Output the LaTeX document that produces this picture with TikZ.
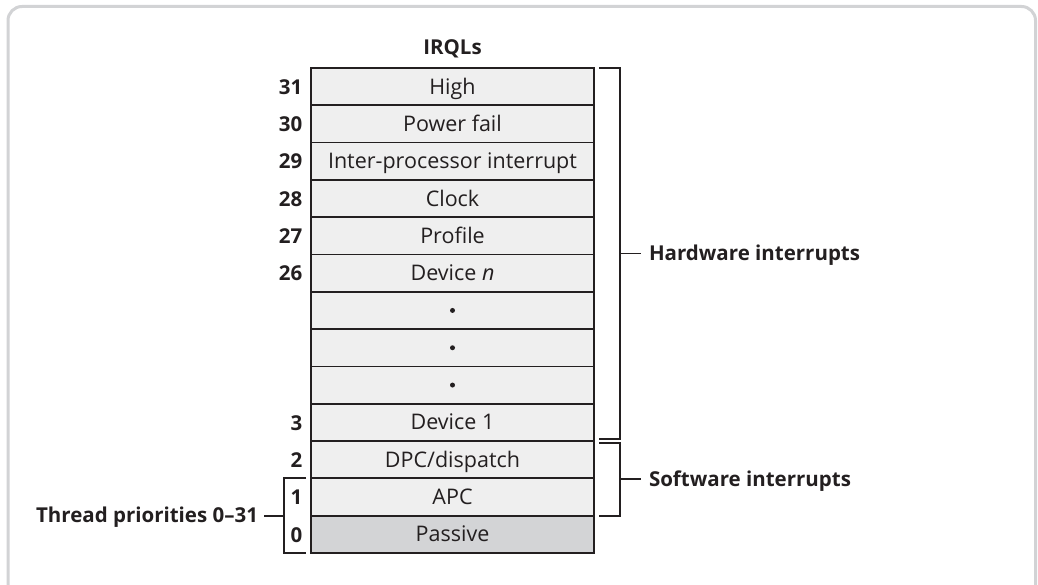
\documentclass[tikz,border=0pt]{standalone}
\usepackage{fontspec}
\setmainfont{Open Sans}
\usetikzlibrary{calc,positioning}
\definecolor{ink}{HTML}{231F20}
\definecolor{cellfill}{HTML}{EFEFEF}
\definecolor{passivefill}{HTML}{D3D4D6}
\definecolor{framegray}{HTML}{D2D3D5}
\begin{document}
\begin{tikzpicture}[x=1pt,y=-1pt,
  cell/.style={draw=ink,line width=1.8pt,fill=cellfill,minimum width=283pt,
    minimum height=37.3pt,inner sep=0pt,outer sep=0pt,text=ink,
    text height=15pt,text depth=0pt,font=\fontsize{21.5}{24}\selectfont},
  passive/.style={cell,fill=passivefill},
  level/.style={anchor=east,inner sep=0pt,text height=14.5pt,text depth=0pt,
    font=\bfseries\fontsize{20.5}{23}\selectfont,text=ink},
  tag/.style={inner sep=0pt,text height=14.5pt,text depth=0pt,
    font=\bfseries\fontsize{20.5}{23}\selectfont,text=ink},
  brace/.style={draw=ink,line width=1.8pt},
  dotmark/.style={circle,fill=ink,inner sep=0pt,minimum size=5pt}]
\useasboundingbox (0,0) rectangle (1038,585);
\clip (0,0) rectangle (1038,585);
% outer panel
\draw[framegray,line width=3pt,rounded corners=14pt] (8,6.5) rectangle (1035.5,620);

% IRQL table, top to bottom
\node[tag] (title) at (452.5,47) {IRQLs};
\node[cell] (r31) at (452.5,86.65) {High};
\node[cell,below=0pt of r31] (r30) {Power fail};
\node[cell,below=0pt of r30] (r29) {Inter-processor interrupt};
\node[cell,below=0pt of r29] (r28) {Clock};
\node[cell,below=0pt of r28] (r27) {Profile};
\node[cell,below=0pt of r27] (r26) {Device \textit{n}};
\node[cell,below=0pt of r26] (ra) {};
\node[cell,below=0pt of ra] (rb) {};
\node[cell,below=0pt of rb] (rc) {};
\node[cell,below=0pt of rc] (r3) {Device 1};
\node[cell,below=0pt of r3] (r2) {DPC/dispatch};
\node[cell,below=0pt of r2] (r1) {APC};
\node[passive,below=0pt of r1] (r0) {Passive};

\node[dotmark] (da) at (ra.center) {};
\node[dotmark] (db) at (rb.center) {};
\node[dotmark] (dc) at (rc.center) {};

% level numbers
\foreach \n in {31,30,29,28,27,26,3,2,1,0}
  \node[level] (n\n) at ($(r\n.west)+(-8.5,0.5)$) {\n};

% hardware interrupts bracket
\coordinate (hwt) at ($(r31.north east)+(5,0)$);
\coordinate (hwb) at ($(r3.south east)+(5,-2)$);
\draw[brace] (hwt) -- ++(21,0) |- (hwb);
\coordinate (hwm) at ($(hwt)!0.5!(hwb)+(21,0)$);
\node[tag,anchor=west,outer xsep=8pt] (hw) at ($(hwm)+(21,0)$) {Hardware interrupts};
\draw[brace] (hwm) -- (hw.west);

% software interrupts bracket
\coordinate (swt) at ($(r2.north east)+(5,2)$);
\coordinate (swb) at ($(r1.south east)+(5,0)$);
\draw[brace] (swt) -- ++(21,0) |- (swb);
\coordinate (swm) at ($(swt)!0.5!(swb)+(21,0)$);
\node[tag,anchor=west,outer xsep=8pt] (sw) at ($(swm)+(21,0)$) {Software interrupts};
\draw[brace] (swm) -- (sw.west);

% thread priorities bracket
\coordinate (tpt) at ($(r1.north west)+(-5,0)$);
\coordinate (tpb) at ($(r0.south west)+(-5,0)$);
\draw[brace] (tpt) -- ++(-22,0) |- (tpb);
\coordinate (tpm) at ($(tpt)!0.5!(tpb)+(-22,0)$);
\node[tag,anchor=east,outer xsep=6pt] (tp) at ($(tpm)+(-20,0)$) {Thread priorities 0–31};
\draw[brace] (tpm) -- (tp.east);
\end{tikzpicture}
\end{document}
